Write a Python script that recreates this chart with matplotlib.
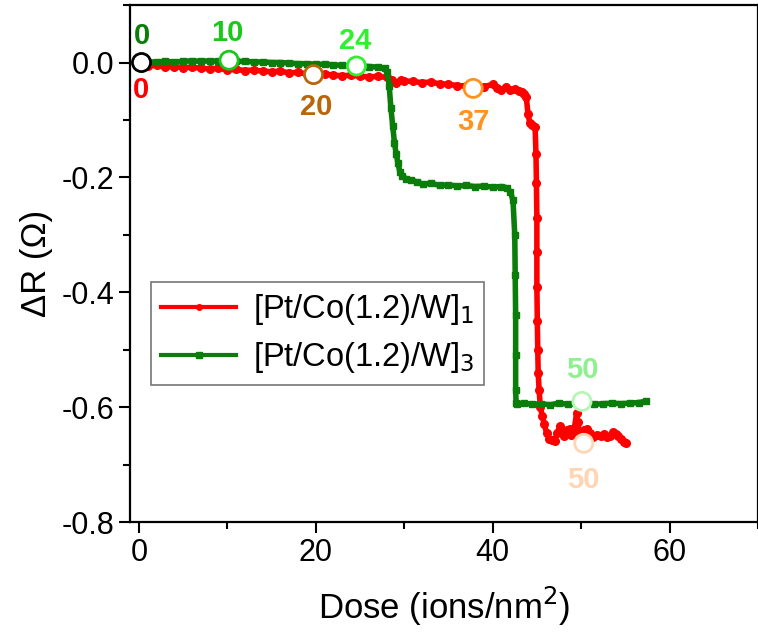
import matplotlib.pyplot as plt
from matplotlib.ticker import MultipleLocator

plt.rcParams['font.family'] = ['Liberation Sans', 'DejaVu Sans']

# [Pt/Co(1.2)/W]_1 (red)
dose_1 = [0, 1, 2, 3, 4, 5, 6, 7, 8, 9, 10, 11, 12, 13, 14, 15, 16, 17, 18, 19,
          20, 21, 22, 23, 24, 25, 26, 27, 28, 28.6, 29.1, 29.6, 30, 31, 32, 33, 34,
          35, 36, 37, 38, 39, 40, 40.5, 41, 41.5, 42, 42.5, 43, 43.3, 43.6, 43.8,
          44.0, 44.2, 44.5, 44.8, 44.9, 44.95, 45.0, 45.0, 45.0, 45.05, 45.1,
          45.15, 45.25, 45.4, 45.6, 45.85, 46.1, 46.4, 46.7, 47.0, 47.3, 47.6, 47.8,
          48.1, 48.4, 48.7, 48.9, 49.2, 49.5, 49.6, 49.8, 50.0, 50.3, 50.7, 51.0,
          51.4, 51.8, 52.2, 52.6, 52.9, 53.3, 53.6, 53.9, 54.2, 54.5, 54.8, 55.1]
dr_1 = [-0.004, -0.006, -0.005, -0.008, -0.007, -0.009, -0.008, -0.010, -0.011, -0.010,
        -0.013, -0.012, -0.014, -0.013, -0.015, -0.016, -0.015, -0.018, -0.017, -0.020,
        -0.021, -0.020, -0.022, -0.023, -0.022, -0.024, -0.025, -0.024, -0.026, -0.030,
        -0.035, -0.030, -0.032, -0.033, -0.035, -0.034, -0.037, -0.038, -0.040, -0.041,
        -0.043, -0.042, -0.038, -0.044, -0.047, -0.043, -0.048, -0.046, -0.050, -0.052,
        -0.055, -0.060, -0.090, -0.105, -0.108, -0.112, -0.16, -0.21, -0.27, -0.33,
        -0.39, -0.45, -0.50, -0.54, -0.57, -0.60, -0.615, -0.63, -0.645, -0.655,
        -0.658, -0.659, -0.645, -0.633, -0.645, -0.650, -0.640, -0.638, -0.648, -0.640,
        -0.610, -0.625, -0.643, -0.648, -0.640, -0.638, -0.645, -0.652, -0.648, -0.650,
        -0.646, -0.652, -0.650, -0.644, -0.647, -0.650, -0.656, -0.660, -0.663]

# [Pt/Co(1.2)/W]_3 (green)
dose_3 = [0, 1, 2, 3, 4, 5, 6, 7, 8, 9, 10, 11, 12, 13, 14, 15, 16, 17, 18, 19,
          20, 21, 22, 23, 24, 25, 26, 27, 27.8, 28.1, 28.3, 28.5, 28.7, 28.9, 29.1,
          29.3, 29.5, 29.8, 30.2, 30.8, 31.5, 32.1, 33, 34, 35, 36, 37, 38, 39, 40,
          41, 41.6, 42.0, 42.3, 42.5, 42.55, 42.6, 42.6, 42.6, 42.65, 42.7, 43.5,
          44.5, 45.5, 46.5, 47.5, 48.5, 49.5, 50.5, 51.5, 52.5, 53.5, 54.5, 55.5,
          56.5, 57.3]
dr_3 = [0.000, 0.001, 0.001, 0.002, 0.001, 0.002, 0.003, 0.002, 0.003, 0.002,
        0.003, 0.002, 0.002, 0.001, 0.001, 0.000, 0.000, -0.001, -0.002, -0.002,
        -0.003, -0.003, -0.004, -0.005, -0.006, -0.006, -0.007, -0.008, -0.010, -0.016,
        -0.040, -0.080, -0.110, -0.140, -0.160, -0.175, -0.190, -0.198, -0.202, -0.205,
        -0.208, -0.212, -0.210, -0.214, -0.213, -0.215, -0.214, -0.216, -0.215, -0.217,
        -0.216, -0.218, -0.225, -0.240, -0.300, -0.370, -0.440, -0.510, -0.570, -0.592,
        -0.594, -0.593, -0.595, -0.594, -0.596, -0.593, -0.595, -0.594, -0.593, -0.595,
        -0.594, -0.593, -0.594, -0.593, -0.592, -0.590]

# open circle annotations
mark_dose = [0.3, 10.2, 19.75, 24.6, 37.8, 50.1, 50.3]
mark_dr = [0.0, 0.004, -0.021, -0.006, -0.045, -0.590, -0.663]
mark_color = ['black', '#19c819', '#b8660b', '#2ff02f', '#ff9320', '#b6f5b6', '#ffd5b3']
label_text = ['0', '0', '10', '20', '24', '37', '50', '50']
label_x = [0.4, 0.2, 10.0, 20.0, 24.5, 37.8, 50.1, 50.2]
label_y = [0.046, -0.048, 0.052, -0.077, 0.038, -0.103, -0.536, -0.727]
label_color = ['#0a7d0a', '#ff0000', '#19c819', '#b8660b', '#2ff02f', '#ff9320',
               '#8ef08e', '#ffd5b3']

fig = plt.figure(figsize=(7.58, 6.37), dpi=100)
ax = fig.add_axes([0.1715, 0.1805, 0.8285, 0.8115])

ax.plot(dose_1, dr_1, color='#ff0000', lw=4, marker='o', ms=5.5,
        label='[Pt/Co(1.2)/W]$_1$')
ax.plot(dose_3, dr_3, color='#0a7d0a', lw=4, marker='s', ms=4.5,
        label='[Pt/Co(1.2)/W]$_3$')

ax.scatter(mark_dose, mark_dr, s=170, facecolor='white', edgecolor=mark_color,
           linewidth=2, zorder=5)
for t, x, y, c in zip(label_text, label_x, label_y, label_color):
    ax.text(x, y, t, color=c, fontsize=21, fontweight='bold', ha='center',
            va='center')

ax.set_xlim(-1, 70)
ax.set_ylim(-0.8, 0.1)
ax.xaxis.set_major_locator(MultipleLocator(20))
ax.xaxis.set_minor_locator(MultipleLocator(10))
ax.yaxis.set_major_locator(MultipleLocator(0.2))
ax.yaxis.set_minor_locator(MultipleLocator(0.1))
ax.yaxis.set_major_formatter(plt.FuncFormatter(lambda v, p: f'{v:.1f}'))
ax.tick_params(which='major', direction='out', length=8, width=1.5, labelsize=22)
ax.tick_params(which='minor', direction='out', length=5, width=1.5)
for s in ax.spines.values():
    s.set_linewidth(1.6)

ax.set_xlabel('Dose (ions/nm$^2$)', fontsize=25, labelpad=12)
ax.set_ylabel('ΔR (Ω)', fontsize=25, labelpad=6)

leg = ax.legend(loc='upper left', bbox_to_anchor=(0.034, 0.464), fontsize=23.5,
                frameon=True, fancybox=False, edgecolor='#555555',
                handlelength=2.3, borderpad=0.3, labelspacing=0.4,
                handletextpad=0.5, borderaxespad=0)
leg.get_frame().set_linewidth(1.2)
for h in leg.get_lines():
    h.set_linewidth(3)
    h.set_markersize(4)

fig.savefig('out.png', dpi=100)
